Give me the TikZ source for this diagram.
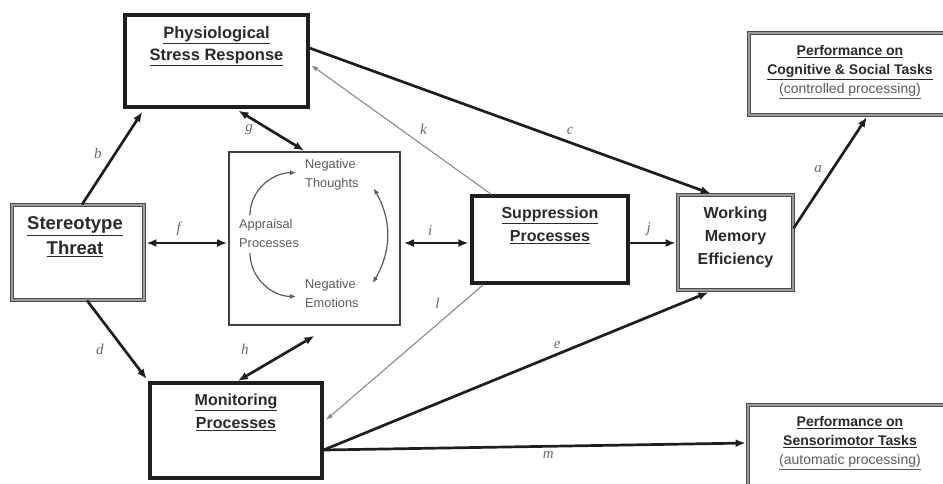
\documentclass[tikz,border=0pt]{standalone}
\usepackage{fontspec}
\setmainfont{Liberation Sans}
\newfontfamily\lblfont{Liberation Serif}
\usetikzlibrary{arrows.meta, positioning, calc}
\definecolor{sline}{HTML}{1E1E1E}
\definecolor{stext}{HTML}{2A2A2A}
\definecolor{sgray}{HTML}{8A8A8A}
\definecolor{sband}{HTML}{9C9C9C}
\definecolor{sinner}{HTML}{5A5A5A}
\definecolor{slabel}{HTML}{6A6A6A}
\newcommand{\ulk}[1]{\underline{#1}}
\tikzset{
  bbox/.style={draw=sline, line width=3.1pt},
  dbox/.style={draw=sline!80, line width=0.8pt, double=sband, double distance=2.4pt},
  abox/.style={draw=sline!85, line width=1.7pt},
  ttl/.style={font=\bfseries\fontsize{16}{23}\selectfont, text=stext, align=center, inner sep=0pt},
  intxt/.style={font=\fontsize{12.8}{19}\selectfont, text=sinner, align=left, inner sep=0pt},
  lbl/.style={font=\lblfont\itshape\fontsize{15}{15}\selectfont, text=slabel, inner sep=1pt},
  arr/.style={->, line width=2.7pt, sline},
  darr/.style={<->, line width=2.7pt, sline},
  tarr/.style={->, line width=1.1pt, sgray, >={Latex[length=7pt,width=5pt]}},
  iarr/.style={->, line width=1.2pt, sinner, >={Latex[length=6pt,width=5pt]}},
}

\begin{document}
\begin{tikzpicture}[x=1pt, y=-1pt, >={Latex[length=10pt,width=8pt]}]
  \useasboundingbox (0,0) rectangle (943,483);
  \clip (0,0) rectangle (943,483);

  % Boxes
  \node[bbox, minimum width=183pt, minimum height=92pt] (phys) at (216.5,61) {};
  \node[ttl, font=\bfseries\fontsize{16.5}{22}\selectfont, below=13pt of phys.north] (physT)
    {\ulk{Physiological}\\\ulk{Stress Response}};

  \node[dbox, minimum width=132pt, minimum height=95pt] (threat) at (78,252.5) {};
  \node[ttl, font=\bfseries\fontsize{18.5}{25}\selectfont, below=12pt of threat.north, xshift=-3pt] (threatT)
    {\ulk{Stereotype}\\\ulk{Threat}};

  \node[abox, minimum width=171pt, minimum height=173pt] (appr) at (314.5,238.5) {};
  \node[intxt, anchor=north west] (apprT) at (239,219) {Appraisal\\Processes};
  \node[intxt, anchor=north west] (thought) at (305,159) {Negative\\Thoughts};
  \node[intxt, anchor=north west] (emot) at (305,279) {Negative\\Emotions};

  \node[bbox, minimum width=156pt, minimum height=87pt] (supp) at (550,239.5) {};
  \node[ttl, below=12pt of supp.north] (suppT) {\ulk{Suppression}\\\ulk{Processes}};

  \node[dbox, minimum width=115pt, minimum height=95pt] (wme) at (735.5,242.5) {};
  \node[ttl, below=12pt of wme.north] (wmeT) {Working\\Memory\\Efficiency};

  \node[bbox, minimum width=172pt, minimum height=95pt] (monit) at (236,430.5) {};
  \node[ttl, below=12pt of monit.north] (monitT) {\ulk{Monitoring}\\\ulk{Processes}};

  \node[dbox, minimum width=202pt, minimum height=82pt] (perfcog) at (850,74) {};
  \node[ttl, font=\bfseries\fontsize{14}{19}\selectfont, below=13pt of perfcog.north] (perfcogT)
    {\ulk{Performance on}\\\ulk{Cognitive \& Social Tasks}\\{\mdseries\color{sinner}\ulk{(controlled processing)}}};

  \node[dbox, minimum width=204pt, minimum height=84pt] (perfsm) at (850,447) {};
  \node[ttl, font=\bfseries\fontsize{14}{19}\selectfont, below=12pt of perfsm.north] (perfsmT)
    {\ulk{Performance on}\\\ulk{Sensorimotor Tasks}\\{\mdseries\color{sinner}\ulk{(automatic processing)}}};

  % Appraisal loop
  \draw[iarr] ([xshift=11pt,yshift=4pt]apprT.north west) to[out=90, in=180] ([xshift=-9pt,yshift=2pt]thought.west);
  \draw[iarr] ([xshift=11pt,yshift=-5pt]apprT.south west) to[out=-90, in=180] ([xshift=-9pt,yshift=-3pt]emot.west);
  \draw[iarr, <->] ([xshift=15pt,yshift=2pt]thought.south east) to[bend left=30] ([xshift=14pt,yshift=-4pt]emot.north east);

  % Paths
  \draw[arr, shorten >=4pt] ([xshift=4pt]threat.north) -- ([xshift=21pt]phys.south west)
    node[lbl, pos=0.53, left=11pt] (lb) {b};
  \draw[arr, shorten >=3pt] ([xshift=9pt]threat.south) -- (monit.north west)
    node[lbl, pos=0.6, left=18pt] (ld) {d};
  \draw[darr, shorten <=2pt, shorten >=1pt] ([yshift=9.5pt]threat.east) -- ([yshift=-4.5pt]appr.west)
    node[lbl, pos=0.41, above=5pt] (lf) {f};
  \draw[darr, shorten <=4pt, shorten >=1pt] ([xshift=18.5pt]phys.south) -- ([xshift=-9.5pt]appr.north)
    node[lbl, pos=0.3, below left=1pt] (lg) {g};
  \draw[darr, shorten <=1pt] ([xshift=1pt]monit.north) -- ([yshift=-10pt]appr.south)
    node[lbl, pos=0.1, above=20pt] (lh) {h};
  \draw[darr, shorten <=3pt, shorten >=2pt] ([yshift=-4.5pt]appr.east) -- ([yshift=-3.5pt]supp.west)
    node[lbl, pos=0.42, above=5pt] (li) {i};
  \draw[arr, shorten >=2pt] ([yshift=-3.5pt]supp.east) -- ([yshift=-0.5pt]wme.west)
    node[lbl, pos=0.4, above=5pt] (lj) {j};
  \draw[tarr, shorten >=2pt] ([xshift=21pt]supp.north west) -- ([yshift=-3pt]phys.east)
    node[lbl, pos=0.42, above right=5pt] (lk) {k};
  \draw[arr, shorten >=3pt] ([yshift=13pt]phys.east) -- ([xshift=-22pt]wme.north)
    node[lbl, pos=0.645, above=6pt] (lc) {c};
  \draw[tarr, shorten >=3pt] ([xshift=13pt]supp.south west) -- ([yshift=8.5pt]monit.east)
    node[lbl, pos=0.23, above left=8pt] (ll) {l};
  \draw[arr, shorten >=5pt] ([yshift=-19.5pt]monit.east) -- ([xshift=-22.5pt]wme.south)
    node[lbl, pos=0.6, above=3pt] (le) {e};
  \draw[arr, shorten >=2pt] ([yshift=-19.5pt]monit.east) -- ([yshift=4pt]perfsm.west)
    node[lbl, pos=0.53, below=3pt] (lm) {m};
  \draw[arr, shorten >=2pt] ([yshift=14pt]wme.east) -- ([xshift=18pt]perfcog.south)
    node[lbl, pos=0.45, above left=4pt] (la) {a};
\end{tikzpicture}
\end{document}
